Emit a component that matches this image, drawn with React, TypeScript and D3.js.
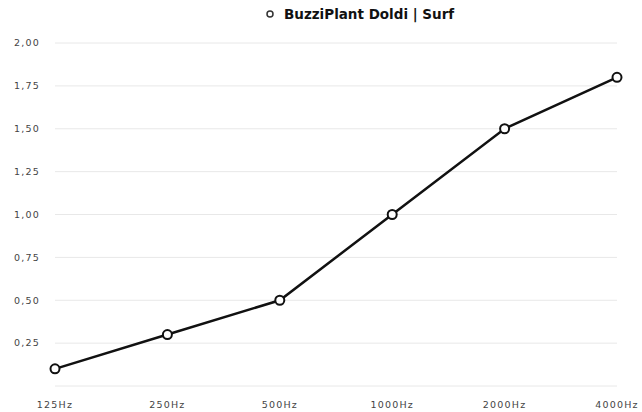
import React, { useEffect, useRef } from 'react';
import * as d3 from 'd3';

const seriesName = 'BuzziPlant Doldi | Surf';
const frequencies = ['125Hz', '250Hz', '500Hz', '1000Hz', '2000Hz', '4000Hz'];
const absorption = [0.1, 0.3, 0.5, 1.0, 1.5, 1.8];
const yTicks = [0, 0.25, 0.5, 0.75, 1, 1.25, 1.5, 1.75, 2];

const App = () => {
  const ref = useRef<SVGSVGElement>(null);

  useEffect(() => {
    const svg = d3.select(ref.current);
    svg.selectAll('*').remove();

    const width = 642;
    const height = 412;
    const margin = { top: 43, right: 25, bottom: 26, left: 55 };
    const font = '"DejaVu Sans", Verdana, sans-serif';

    const x = d3.scalePoint<string>()
      .domain(frequencies)
      .range([margin.left, width - margin.right]);

    const y = d3.scaleLinear()
      .domain([0, 2])
      .range([height - margin.bottom, margin.top]);

    // grid lines
    svg.append('g')
      .selectAll('line')
      .data(yTicks)
      .enter()
      .append('line')
      .attr('x1', margin.left)
      .attr('x2', width - margin.right)
      .attr('y1', d => y(d))
      .attr('y2', d => y(d))
      .attr('stroke', '#e8e8e8')
      .attr('stroke-width', 1);

    // y labels (no label at zero)
    svg.append('g')
      .selectAll('text')
      .data(yTicks.filter(d => d > 0))
      .enter()
      .append('text')
      .attr('x', 40)
      .attr('y', d => y(d))
      .attr('dy', '0.35em')
      .attr('text-anchor', 'end')
      .attr('font-family', font)
      .attr('font-size', 9.5)
      .attr('letter-spacing', 1.2)
      .attr('fill', '#444')
      .text(d => d3.format('.2f')(d).replace('.', ','));

    // x labels
    svg.append('g')
      .selectAll('text')
      .data(frequencies)
      .enter()
      .append('text')
      .attr('x', d => x(d) as number)
      .attr('y', 405)
      .attr('dy', '0.35em')
      .attr('text-anchor', 'middle')
      .attr('font-family', font)
      .attr('font-size', 9.5)
      .attr('letter-spacing', 1.2)
      .attr('fill', '#444')
      .text(d => d);

    const line = d3.line<number>()
      .x((_, i) => x(frequencies[i]) as number)
      .y(d => y(d));

    svg.append('path')
      .datum(absorption)
      .attr('d', line)
      .attr('fill', 'none')
      .attr('stroke', '#111')
      .attr('stroke-width', 2.5);

    svg.append('g')
      .selectAll('circle')
      .data(absorption)
      .enter()
      .append('circle')
      .attr('cx', (_, i) => x(frequencies[i]) as number)
      .attr('cy', d => y(d))
      .attr('r', 4.5)
      .attr('fill', '#fff')
      .attr('stroke', '#111')
      .attr('stroke-width', 2);

    // legend / title
    const legend = svg.append('g');
    legend.append('circle')
      .attr('cx', 270)
      .attr('cy', 14)
      .attr('r', 3)
      .attr('fill', '#fff')
      .attr('stroke', '#333')
      .attr('stroke-width', 1.5);
    legend.append('text')
      .attr('x', 284)
      .attr('y', 14)
      .attr('dy', '0.35em')
      .attr('font-family', font)
      .attr('font-size', 13.5)
      .attr('font-weight', 'bold')
      .attr('fill', '#111')
      .text(seriesName);
  }, []);

  return (
    <svg
      ref={ref}
      width={642}
      height={412}
      style={{ position: 'absolute', left: 0, top: 0, background: '#fff' }}
    />
  );
};

export default App;
